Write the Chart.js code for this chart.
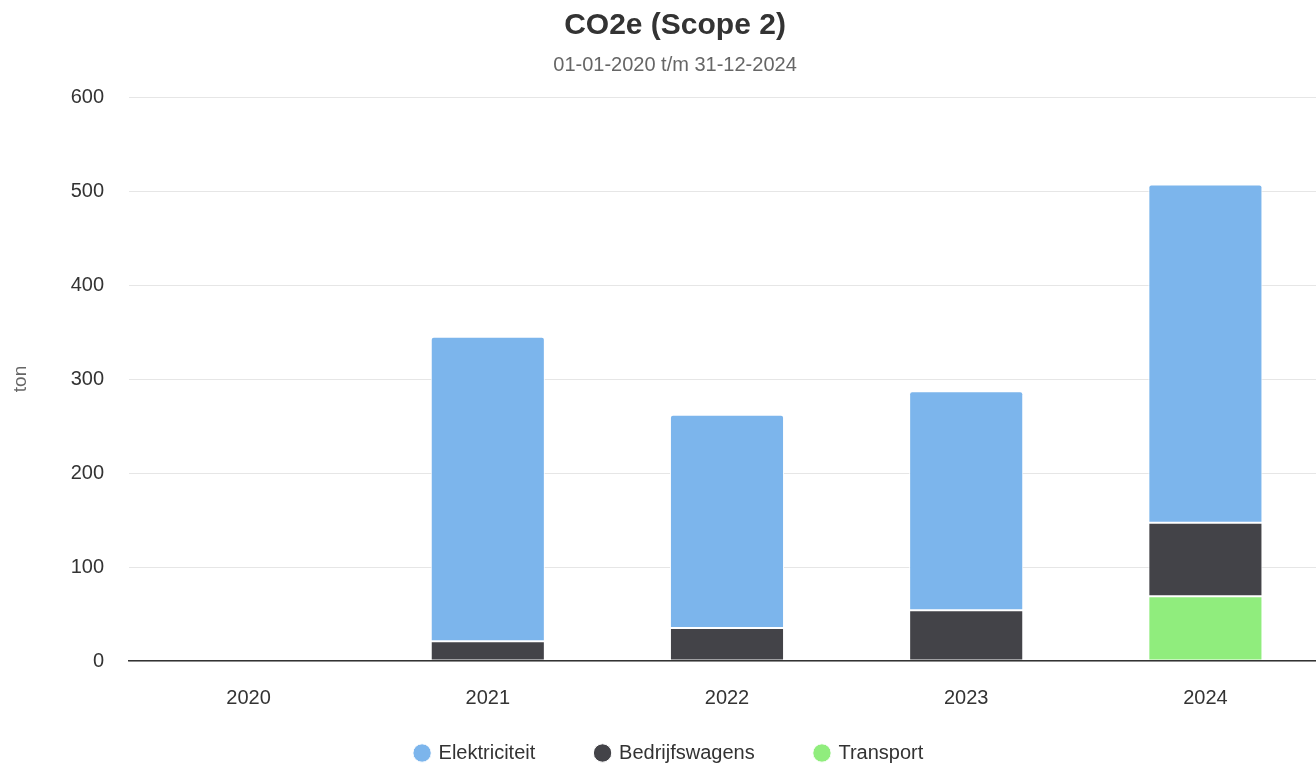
<!DOCTYPE html>
<html>
<head>
<meta charset="utf-8">
<script src="https://cdn.jsdelivr.net/npm/chart.js@4"></script>
<style>
  html, body { margin: 0; padding: 0; overflow: hidden; background: #fff; }
  #wrap { width: 1350px; height: 773px; position: relative; }
</style>
</head>
<body>
<div id="wrap"><canvas id="myChart"></canvas></div>
<script>
// data
const years = ['2020', '2021', '2022', '2023', '2024'];
const elektriciteit = [0, 324, 227, 233, 360];
const bedrijfswagens = [0, 21, 35, 54, 78];
const transport = [0, 0, 0, 0, 69];
const yTicks = [0, 100, 200, 300, 400, 500, 600];

const font = "'Liberation Sans', Arial, sans-serif";

// stacking goes bottom-up, so Transport first; legend is reversed
const config = {
    type: 'bar',
    data: {
        labels: years,
        datasets: [{
            label: 'Transport',
            data: transport,
            backgroundColor: '#90ed7d'
        }, {
            label: 'Bedrijfswagens',
            data: bedrijfswagens,
            backgroundColor: '#434348'
        }, {
            label: 'Elektriciteit',
            data: elektriciteit,
            backgroundColor: '#7cb5ec',
            borderRadius: { topLeft: 3, topRight: 3, bottomLeft: 0, bottomRight: 0 }
        }]
    },
    options: {
        responsive: true,
        maintainAspectRatio: false,
        animation: false,
        datasets: {
            bar: {
                borderColor: '#ffffff',
                borderWidth: 1,
                borderSkipped: false,
                categoryPercentage: 1,
                barPercentage: 0.477
            }
        },
        layout: { padding: { left: 25, right: 25, top: 0, bottom: 0 } },
        scales: {
            x: {
                stacked: true,
                grid: { display: false, drawTicks: false },
                border: { display: true, color: '#333333', width: 1.5, z: 1 },
                ticks: { color: '#333333', font: { family: font, size: 20 }, padding: 25 },
                afterFit: axis => { axis.height = 49; }
            },
            y: {
                stacked: true,
                min: 0,
                max: 600,
                afterBuildTicks: axis => { axis.ticks = yTicks.map(v => ({ value: v })); },
                grid: { color: '#e6e6e6', lineWidth: 1, drawTicks: false },
                border: { display: false },
                ticks: { color: '#333333', font: { family: font, size: 20 }, padding: 25 },
                title: {
                    display: true,
                    text: 'ton',
                    color: '#666666',
                    font: { family: font, size: 19 },
                    padding: { top: -16, bottom: 0 }
                },
                afterFit: axis => { axis.width = 104; }
            }
        },
        plugins: {
            title: {
                display: true,
                text: 'CO2e (Scope 2)',
                color: '#333333',
                font: { family: font, size: 30, weight: 'bold' },
                padding: { top: 8, bottom: 9 }
            },
            subtitle: {
                display: true,
                text: '01-01-2020 t/m 31-12-2024',
                color: '#666666',
                font: { family: font, size: 20 },
                padding: { top: 0, bottom: 20 }
            },
            legend: {
                position: 'bottom',
                reverse: true,
                labels: {
                    usePointStyle: true,
                    pointStyle: 'circle',
                    boxWidth: 13,
                    boxHeight: 13,
                    padding: 33,
                    color: '#333333',
                    font: { family: font, size: 20 },
                    // trailing spaces widen the gaps between items
                    generateLabels: chart => Chart.defaults.plugins.legend.labels.generateLabels(chart)
                        .map(item => {
                            item.text += item.datasetIndex !== 0 ? '     ' : '  ';
                            return item;
                        })
                }
            },
            tooltip: { enabled: false }
        }
    }
};

window.onload = function () {
    const ctx = document.getElementById('myChart').getContext('2d');
    window.myChart = new Chart(ctx, config);
};
</script>
</body>
</html>
